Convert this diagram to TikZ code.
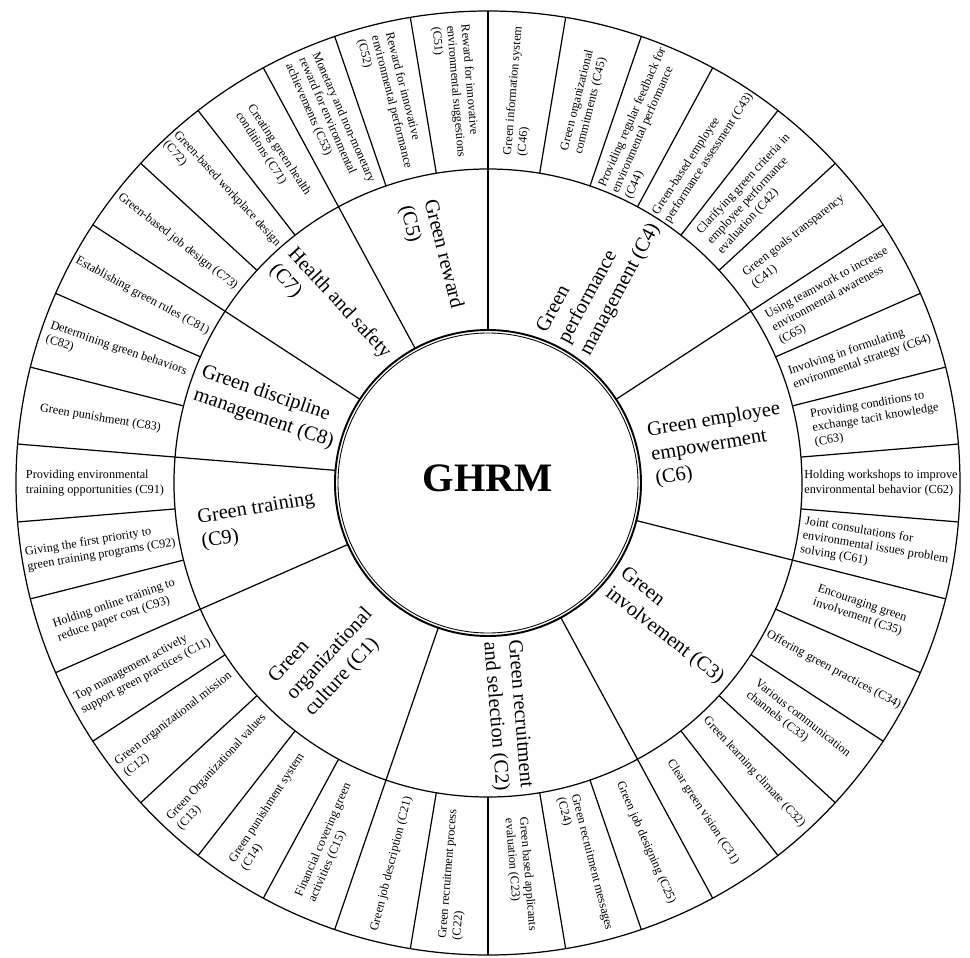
\documentclass[tikz,border=0pt]{standalone}
\usepackage{fontspec}
\setmainfont{Liberation Serif}
\usepackage{tikz}

\begin{document}
\begin{tikzpicture}[x=0.02cm,y=0.02cm,
    sector/.style={line width=0.7pt},
    criterion/.style={font=\fontsize{11.6}{14}\selectfont,align=left,inner sep=1pt},
    indicator/.style={font=\fontsize{7}{8.2}\selectfont,align=left,inner sep=1pt},
  ]
  \useasboundingbox (-488,-474) rectangle (482,483);

  % rings
  \draw[sector] (0,0) circle (472);
  \draw[sector] (0,0) circle (314);
  \draw[line width=1.1pt] (0,0) circle (153);
  \draw[line width=0.5pt] (0,0) circle (150);

  \node[font=\fontsize{23}{27}\selectfont\bfseries] (ghrm) at (0,5) {GHRM};

  % boundaries
  \foreach \k in {0,...,37}
    \draw[sector] ({90-\k*360/38}:314) -- ({90-\k*360/38}:472);
  \foreach \k in {0,6,11,16,21,26,29,32,35}
    \draw[sector] ({90-\k*360/38}:153) -- ({90-\k*360/38}:314);

  % criteria
  \foreach \k/\name/\txt in {
      3/cat4/{Green\\performance\\management (C4)},
      8.5/cat6/{Green employee\\empowerment\\(C6)},
      13.5/cat3/{Green\\involvement (C3)},
      18.5/cat2/{Green recruitment\\and selection (C2)},
      23.5/cat1/{Green\\organizational\\culture (C1)},
      27.5/cat9/{Green training\\(C9)},
      30.5/cat8/{Green discipline\\management (C8)},
      33.5/cat7/{Health and safety\\(C7)},
      36.5/cat5/{Green reward\\(C5)}}{
    \pgfmathsetmacro\ang{90-\k*360/38}
    \pgfmathsetmacro\rot{\k<19 ? \ang : \ang+180}
    \node[criterion,rotate=\rot] (\name) at (\ang:233) {\txt};
  }

  % indicators
  \foreach \k/\name/\txt in {
      0/c46/{Green information system\\(C46)},
      1/c45/{Green organizational\\commitments (C45)},
      2/c44/{Providing regular feedback for\\environmental performance\\(C44)},
      3/c43/{Green-based employee\\performance assessment (C43)},
      4/c42/{Clarifying green criteria in\\employee performance\\evaluation (C42)},
      5/c41/{Green goals transparency\\(C41)},
      6/c65/{Using teamwork to increase\\environmental awareness\\(C65)},
      7/c64/{Involving in formulating\\environmental strategy (C64)},
      8/c63/{Providing conditions to\\exchange tacit knowledge\\(C63)},
      9/c62/{Holding workshops to improve\\environmental behavior (C62)},
      10/c61/{Joint consultations for\\environmental issues problem\\solving (C61)},
      11/c35/{Encouraging green\\involvement (C35)},
      12/c34/{Offering green practices (C34)},
      13/c33/{Various communication\\channels (C33)},
      14/c32/{Green learning climate (C32)},
      15/c31/{Clear green vision (C31)},
      16/c25/{Green job designing (C25)},
      17/c24/{Green recruitment messages\\(C24)},
      18/c23/{Green based applicants\\evaluation (C23)},
      19/c22/{Green recruitment process\\(C22)},
      20/c21/{Green job description (C21)},
      21/c15/{Financial covering green\\activities (C15)},
      22/c14/{Green punishment system\\(C14)},
      23/c13/{Green Organizational values\\(C13)},
      24/c12/{Green organizational mission\\(C12)},
      25/c11/{Top management actively\\support green practices (C11)},
      26/c93/{Holding online training to\\reduce paper cost (C93)},
      27/c92/{Giving the first priority to\\green training programs (C92)},
      28/c91/{Providing environmental\\training opportunities (C91)},
      29/c83/{Green punishment (C83)},
      30/c82/{Determining green behaviors\\(C82)},
      31/c81/{Establishing green rules (C81)},
      32/c73/{Green-based job design (C73)},
      33/c72/{Green-based workplace design\\(C72)},
      34/c71/{Creating green health\\conditions (C71)},
      35/c53/{Monetary and non-monetary\\reward for environmental\\achievements (C53)},
      36/c52/{Reward for innovative\\environmental performance\\(C52)},
      37/c51/{Reward for innovative\\environmental suggestions\\(C51)}}{
    \pgfmathsetmacro\ang{90-(\k+0.5)*360/38}
    \pgfmathsetmacro\rot{\k<19 ? \ang : \ang+180}
    \node[indicator,rotate=\rot] (\name) at (\ang:393) {\txt};
  }
\end{tikzpicture}
\end{document}
